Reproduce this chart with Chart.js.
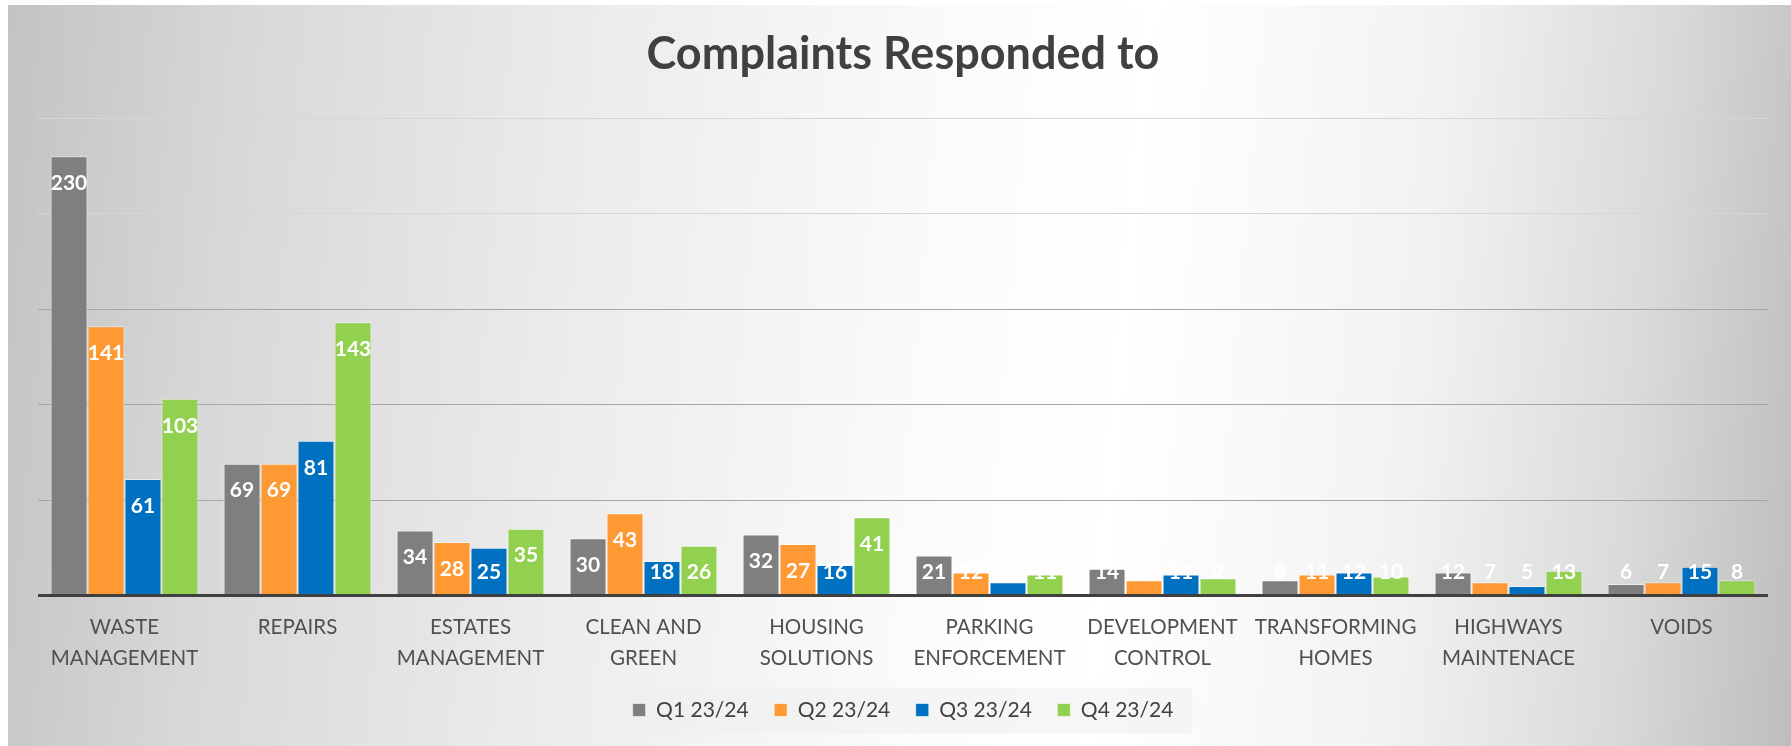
<!DOCTYPE html>
<html>
<head>
<meta charset="utf-8">
<script src="https://cdn.jsdelivr.net/npm/chart.js@4"></script>
<style>
    html, body { margin: 0; padding: 0; background: #fff; }
    #frame {
        position: absolute; left: 8px; top: 5px; width: 1783px; height: 741px;
        background: linear-gradient(95deg, #c3c3c3 0%, #d8d8d8 13%, #ececec 32%, #fbfbfb 52%, #ffffff 62%, #f2f2f2 78%, #dadada 90%, #bdbdbd 100%);
    }
    canvas { display: block; }
</style>
</head>
<body>
<div id="frame"><canvas id="chart" width="1783" height="741"></canvas></div>
<script>
const categories = [
    ['WASTE', 'MANAGEMENT'], ['REPAIRS'], ['ESTATES', 'MANAGEMENT'], ['CLEAN AND', 'GREEN'],
    ['HOUSING', 'SOLUTIONS'], ['PARKING', 'ENFORCEMENT'], ['DEVELOPMENT', 'CONTROL'],
    ['TRANSFORMING', 'HOMES'], ['HIGHWAYS', 'MAINTENACE'], ['VOIDS']
];
const seriesNames = ['Q1 23/24', 'Q2 23/24', 'Q3 23/24', 'Q4 23/24'];
const q1 = [230, 69, 34, 30, 32, 21, 14, 8, 12, 6];
const q2 = [141, 69, 28, 43, 27, 12, 8, 11, 7, 7];
const q3 = [61, 81, 25, 18, 16, 7, 11, 12, 5, 15];
const q4 = [103, 143, 35, 26, 41, 11, 9, 10, 13, 8];
const colors = ['#7f7f7f', '#ff9933', '#0070c0', '#92d050'];

const FONT = 'Lato';

// white value labels, inside the bar end (pushed up for short bars)
const barLabelPlugin = {
    id: 'barLabels',
    afterDatasetsDraw: (chart) => {
        const { ctx } = chart;
        const base = chart.scales.y.getPixelForValue(0);
        ctx.save();
        ctx.font = `bold 21px ${FONT}`;
        ctx.fillStyle = '#ffffff';
        ctx.textAlign = 'center';
        ctx.textBaseline = 'middle';
        chart.data.datasets.forEach((ds, i) => {
            chart.getDatasetMeta(i).data.forEach((bar, j) => {
                const y = Math.min(bar.y + 27, base - 23);
                ctx.fillText(ds.data[j], bar.x, y);
            });
        });
        ctx.restore();
    }
};

// light panel behind the legend
const legendPanelPlugin = {
    id: 'legendPanel',
    beforeDraw: (chart) => {
        const boxes = chart.legend && chart.legend.legendHitBoxes;
        if (!boxes || !boxes.length) return;
        const first = boxes[0], last = boxes[boxes.length - 1];
        const { ctx } = chart;
        ctx.save();
        ctx.fillStyle = 'rgba(238, 238, 238, 0.55)';
        const left = first.left - 26;
        const right = last.left + last.width + 19;
        ctx.fillRect(left, first.top - 12, right - left, 46);
        ctx.restore();
    }
};

const ctx = document.getElementById('chart').getContext('2d');
new Chart(ctx, {
    type: 'bar',
    data: {
        labels: categories,
        datasets: [q1, q2, q3, q4].map((d, i) => ({
            label: seriesNames[i],
            data: d,
            backgroundColor: colors[i],
            borderColor: 'rgba(255, 255, 255, 0.55)',
            borderWidth: 1,
            barPercentage: 1,
            categoryPercentage: 0.855
        }))
    },
    options: {
        responsive: false,
        animation: false,
        layout: { padding: { left: 30, right: 23, top: 0, bottom: 15.5 } },
        plugins: {
            title: {
                display: true,
                text: 'Complaints Responded to',
                color: '#404040',
                font: { family: FONT, size: 45, weight: 'bold', lineHeight: 1.2 },
                padding: { top: 22, bottom: 37 }
            },
            legend: {
                position: 'bottom',
                labels: {
                    color: '#404040',
                    font: { family: FONT, size: 21 },
                    boxWidth: 13,
                    boxHeight: 13,
                    padding: 25.5
                }
            },
            tooltip: { enabled: false }
        },
        scales: {
            x: {
                grid: { display: false, drawTicks: false },
                border: { display: false },
                ticks: {
                    color: '#505050',
                    font: { family: FONT, size: 20.5, lineHeight: 1.5 },
                    padding: 17,
                    maxRotation: 0,
                    autoSkip: false
                },
                afterFit: (scale) => { scale.height = 78.5; }
            },
            y: {
                min: 0,
                max: 250,
                ticks: { display: false, stepSize: 50 },
                border: { display: false },
                grid: {
                    drawTicks: false,
                    color: (c) => c.tick.value === 0 ? '#404040' : (c.tick.value >= 200 ? '#d6d6d6' : '#a6a6a6'),
                    lineWidth: (c) => c.tick.value === 0 ? 3 : 1
                },
                afterFit: (scale) => { scale.width = 0; }
            }
        }
    },
    plugins: [legendPanelPlugin, barLabelPlugin]
});
</script>
</body>
</html>
